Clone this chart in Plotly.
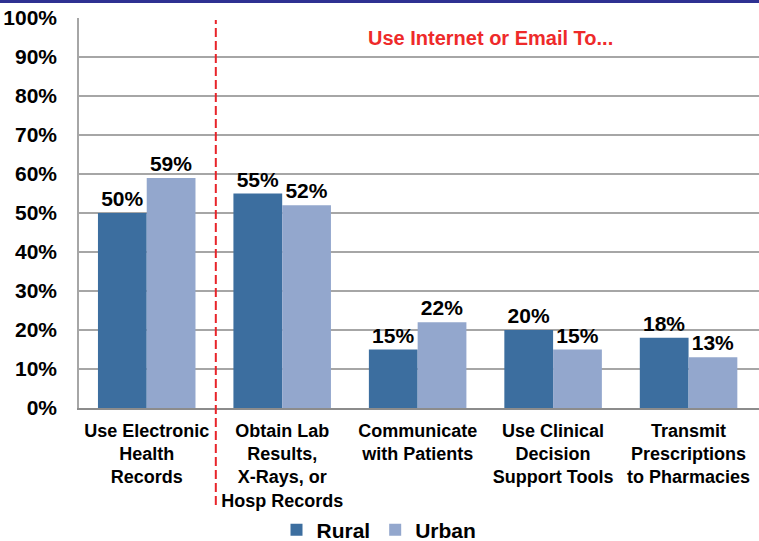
import plotly.graph_objects as go

categories = ["Use Electronic<br>Health<br>Records",
              "Obtain Lab<br>Results,<br>X-Rays, or<br>Hosp Records",
              "Communicate<br>with Patients",
              "Use Clinical<br>Decision<br>Support Tools",
              "Transmit<br>Prescriptions<br>to Pharmacies"]
rural = [50, 55, 15, 20, 18]
urban = [59, 52, 22, 15, 13]
y_ticks = list(range(0, 101, 10))
annotation_text = "Use Internet or Email To..."

FONT = "Liberation Sans, Arial, sans-serif"

fig = go.Figure()
fig.add_trace(go.Bar(name="<b>Rural</b>", x=categories, y=rural,
                     marker=dict(color="#3C6E9F", line=dict(width=0)),
                     text=[f"<b>{v}%</b>" for v in rural], textposition="outside",
                     textfont=dict(size=21, color="black", family=FONT),
                     cliponaxis=False))
fig.add_trace(go.Bar(name="<b>Urban</b>", x=categories, y=urban,
                     marker=dict(color="#93A7CD", line=dict(width=0)),
                     text=[f"<b>{v}%</b>" for v in urban], textposition="outside",
                     textfont=dict(size=21, color="black", family=FONT),
                     cliponaxis=False))

fig.update_layout(
    width=759, height=541,
    margin=dict(l=79, r=0, t=18, b=133, autoexpand=False),
    paper_bgcolor="white", plot_bgcolor="white",
    barmode="group", bargap=0.28, bargroupgap=0,
    font=dict(family=FONT, color="black"),
    showlegend=True,
    legend=dict(orientation="h", x=0.45 - 6 / 680, xanchor="center", y=(408 - 530) / 390, yanchor="middle",
                font=dict(size=21, family=FONT, color="black"),
                itemwidth=30, traceorder="normal"),
)
fig.update_xaxes(type="category", range=[-0.5, 4.52], showline=True, linecolor="#8C8C8C", linewidth=2,
                 tickfont=dict(size=18, family=FONT, color="black"),
                 ticks="outside", ticklen=5, tickcolor="rgba(0,0,0,0)", showgrid=False, automargin=False)
fig.update_xaxes(ticktext=[f"<b>{c}</b>" for c in categories], tickvals=categories)
fig.update_yaxes(range=[0, 100], tickvals=y_ticks, ticktext=[f"<b>{t}%</b>" for t in y_ticks],
                 tickfont=dict(size=21, family=FONT, color="black"),
                 showgrid=True, gridcolor="#A6A6A6", gridwidth=1.5,
                 showline=True, linecolor="#A6A6A6", linewidth=1.5,
                 ticks="outside", ticklen=16, tickcolor="rgba(0,0,0,0)",
                 zeroline=False, automargin=False)

# red dashed separator between first and second category
fig.add_shape(type="line", xref="x", yref="paper", x0=0.51, x1=0.51, y0=(408 - 505) / 390, y1=0.995,
              line=dict(color="#E8242A", width=2, dash="9px,4px"))
# top navy rule
fig.add_shape(type="rect", xref="paper", yref="paper", x0=-0.2, x1=1.1,
              y0=(408 - 3) / 390, y1=(408 + 18) / 390, layer="above",
              fillcolor="#2E3192", line=dict(width=0))
fig.add_annotation(text=f"<b>{annotation_text}</b>", xref="paper", yref="paper",
                   x=(490 - 79) / 680, y=(408 - 38) / 390, xanchor="center", yanchor="middle",
                   showarrow=False, font=dict(size=20, color="#EE2A2A", family=FONT))

fig.write_html("out.html", config={"displayModeBar": False},
               post_script="document.body.style.margin='0';document.body.style.overflow='hidden';")
